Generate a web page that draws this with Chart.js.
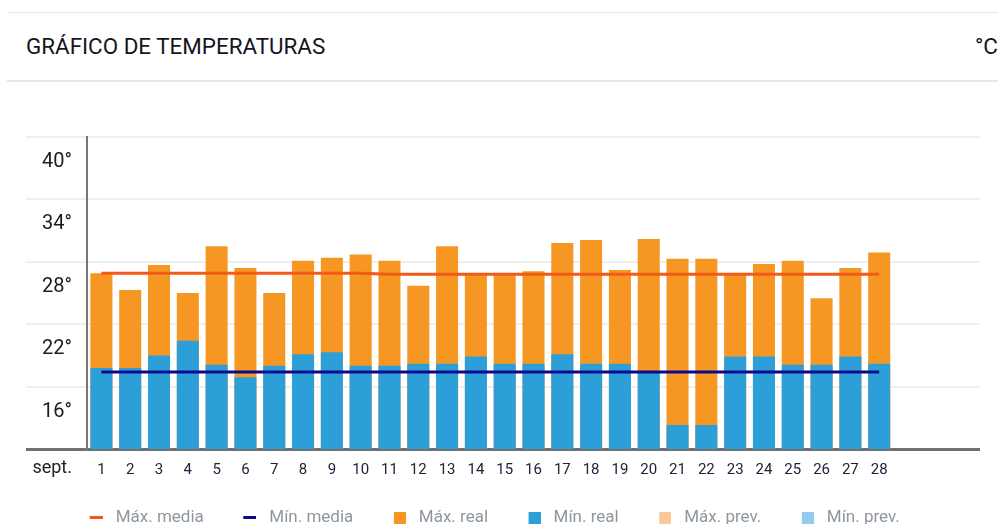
<!DOCTYPE html>
<html lang="es">
<head>
<meta charset="utf-8">
<title>Gráfico de temperaturas</title>
<script src="https://cdn.jsdelivr.net/npm/chart.js@4.4.1/dist/chart.umd.min.js"></script>
<style>
    html, body {
        margin: 0;
        padding: 0;
        width: 998px;
        height: 524px;
        overflow: hidden;
        background: #fff;
        font-family: Roboto, "Noto Sans", sans-serif;
    }
    .regla {
        position: absolute;
        left: 7px;
        right: 0;
        background: #e6e6e6;
    }
    .titulo {
        position: absolute;
        top: 35px;
        font-size: 22.4px;
        line-height: 22px;
        color: #15151f;
        white-space: nowrap;
    }
    #contenedor {
        position: absolute;
        left: -20px;
        top: 100px;
        width: 1000px;
        height: 436px;
    }
</style>
</head>
<body>
<div class="regla" style="top:12px;height:1px"></div>
<div class="titulo" style="left:26px">GRÁFICO DE TEMPERATURAS</div>
<div class="titulo" style="left:975px">°C</div>
<div class="regla" style="top:80px;height:2px"></div>
<div id="contenedor"><canvas id="graficaTemperaturas"></canvas></div>

<script>
// días del mes (el eje deja sitio para 31)
const dias = ["1", "2", "3", "4", "5", "6", "7", "8", "9", "10", "11", "12", "13", "14",
    "15", "16", "17", "18", "19", "20", "21", "22", "23", "24", "25", "26", "27", "28", "", "", ""];
const mes = "sept.";

const maxReal = [26.9, 25.3, 27.7, 25.0, 29.5, 27.4, 25.0, 28.1, 28.4, 28.7, 28.1, 25.7, 29.5, 26.8,
    26.8, 27.1, 29.8, 30.1, 27.2, 30.2, 28.3, 28.3, 26.8, 27.8, 28.1, 24.5, 27.4, 28.9];
const minReal = [17.8, 17.8, 19.0, 20.4, 18.1, 16.9, 18.0, 19.1, 19.3, 18.0, 18.0, 18.2, 18.2, 18.9,
    18.2, 18.2, 19.1, 18.2, 18.2, 17.4, 12.3, 12.3, 18.9, 18.9, 18.1, 18.1, 18.9, 18.2];

const maxMedia = [26.9, 26.9, 26.9, 26.9, 26.9, 26.9, 26.9, 26.9, 26.9, 26.9, 26.8, 26.8, 26.8, 26.8,
    26.8, 26.8, 26.8, 26.8, 26.8, 26.8, 26.8, 26.8, 26.8, 26.8, 26.8, 26.8, 26.8, 26.8];
const minMedia = [17.4, 17.4, 17.4, 17.4, 17.4, 17.4, 17.4, 17.4, 17.4, 17.4, 17.4, 17.4, 17.4, 17.4,
    17.4, 17.4, 17.4, 17.4, 17.4, 17.4, 17.4, 17.4, 17.4, 17.4, 17.4, 17.4, 17.4, 17.4];

// previsión: sin datos en este periodo
const maxPrev = [];
const minPrev = [];

const escalaMin = 10;
const escalaMax = 40;
const pasoTicks = 6;

const COLOR_MAX_MEDIA = "#f25a17";
const COLOR_MIN_MEDIA = "#0a0a8c";
const COLOR_MAX_REAL = "#f69723";
const COLOR_MIN_REAL = "#2d9fd8";
const COLOR_MAX_PREV = "#fdc898";
const COLOR_MIN_PREV = "#92cdee";

// marcador de leyenda: lienzo transparente con la marca pegada a la derecha
function marcador(ancho, alto, color) {
    const c = document.createElement("canvas");
    c.width = 38;
    c.height = alto;
    const g = c.getContext("2d");
    g.fillStyle = color;
    g.fillRect(38 - ancho, 0, ancho, alto);
    return c;
}

const marcadoresLeyenda = [
    marcador(13, 3, COLOR_MAX_MEDIA),
    marcador(13, 3, COLOR_MIN_MEDIA),
    marcador(12, 12, COLOR_MAX_REAL),
    marcador(12, 12, COLOR_MIN_REAL),
    marcador(12, 12, COLOR_MAX_PREV),
    marcador(12, 12, COLOR_MIN_PREV),
];

function serieBarras(etiqueta, datos, color, orden) {
    return {
        type: "bar",
        label: etiqueta,
        data: datos,
        backgroundColor: color,
        borderWidth: 0,
        grouped: false,
        barPercentage: 0.765,
        categoryPercentage: 1,
        order: orden,
    };
}

function serieLinea(etiqueta, datos, color) {
    return {
        type: "line",
        label: etiqueta,
        data: datos,
        borderColor: color,
        backgroundColor: color,
        borderWidth: 3,
        pointRadius: 0,
        tension: 0,
        fill: false,
        order: 0,
    };
}

// rótulo del mes a la izquierda de los días
const rotuloMes = {
    id: "rotuloMes",
    afterDraw(chart) {
        const { ctx } = chart;
        const ejeY = chart.scales.y;
        const ejeX = chart.scales.x;
        ctx.save();
        ctx.font = "18px Roboto";
        ctx.fillStyle = "#222";
        ctx.textAlign = "right";
        ctx.textBaseline = "middle";
        ctx.fillText(mes, ejeY.right - 15, ejeX.top + 19);
        ctx.restore();
    },
};

const ctx = document.getElementById("graficaTemperaturas").getContext("2d");

new Chart(ctx, {
    data: {
        labels: dias,
        datasets: [
            serieLinea("Máx. media", maxMedia, COLOR_MAX_MEDIA),
            serieLinea("Mín. media", minMedia, COLOR_MIN_MEDIA),
            serieBarras("Máx. real", maxReal, COLOR_MAX_REAL, 2),
            serieBarras("Mín. real", minReal, COLOR_MIN_REAL, 1),
            serieBarras("Máx. prev.", maxPrev, COLOR_MAX_PREV, 3),
            serieBarras("Mín. prev.", minPrev, COLOR_MIN_PREV, 3),
        ],
    },
    plugins: [rotuloMes],
    options: {
        responsive: true,
        maintainAspectRatio: false,
        animation: false,
        layout: {
            padding: { top: 37, right: 0, bottom: 0, left: 0 },
        },
        plugins: {
            tooltip: { enabled: false },
            legend: {
                position: "bottom",
                labels: {
                    usePointStyle: true,
                    pointStyleWidth: 47,
                    padding: 10,
                    color: "#8e979f",
                    font: { family: "Roboto", size: 17 },
                    sort: (a, b) => a.datasetIndex - b.datasetIndex,
                    generateLabels: (chart) => {
                        const items = Chart.defaults.plugins.legend.labels.generateLabels(chart);
                        items.forEach((it) => {
                            it.pointStyle = marcadoresLeyenda[it.datasetIndex];
                        });
                        return items;
                    },
                },
            },
        },
        scales: {
            x: {
                type: "category",
                offset: true,
                grid: { display: false, drawTicks: false },
                border: { display: false },
                ticks: {
                    autoSkip: false,
                    maxRotation: 0,
                    padding: 12,
                    color: "#22223a",
                    font: { family: "Roboto", size: 15 },
                },
                afterFit: (escala) => {
                    escala.height = 50;
                },
            },
            y: {
                min: escalaMin,
                max: escalaMax,
                border: { display: true, color: "#777", width: 2 },
                grid: {
                    tickLength: 61,
                    color: (c) => (c.tick && c.tick.value === escalaMin ? "#707070" : "#efefef"),
                    lineWidth: (c) => (c.tick && c.tick.value === escalaMin ? 3 : 2),
                },
                ticks: {
                    stepSize: pasoTicks,
                    padding: -46,
                    labelOffset: 25,
                    color: "#1c1c1c",
                    font: { family: "Roboto", size: 20 },
                    callback: (valor) => (valor === escalaMin ? "" : valor + "°"),
                },
                afterFit: (escala) => {
                    escala.width = 107;
                },
            },
        },
    },
});
</script>
</body>
</html>
